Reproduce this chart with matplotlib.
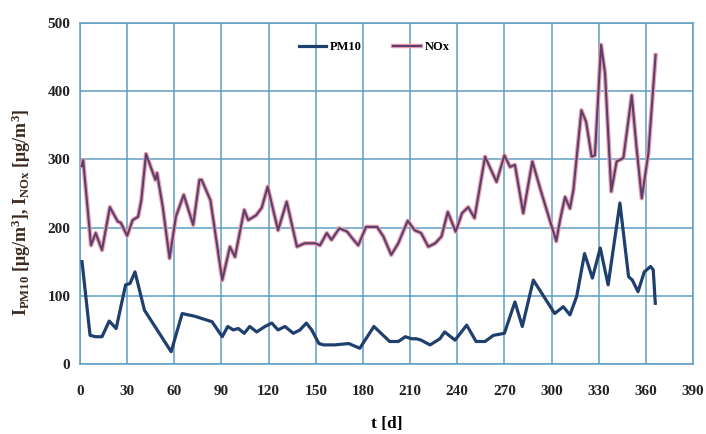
import matplotlib
matplotlib.use("Agg")
import matplotlib.pyplot as plt
import matplotlib.patheffects as pe

# NOx series (day, value)
nox_days = [1, 2, 7, 10, 14, 19, 24, 26, 30, 33.5, 37, 39, 42, 48, 49, 52.6, 57, 61, 66, 72, 76,
            77.4, 83, 90.5, 95.4, 98.6, 104.5, 107, 112, 115.6, 119.4, 126, 131.5, 138, 143, 149.5,
            152.7, 157, 160, 165, 170, 173, 177, 182, 189, 193, 198, 202.5, 208.5, 213, 217, 221.6,
            226, 230, 234, 239, 243, 247, 251, 257.7, 265, 270, 273.6, 276.7, 282, 287.8, 293.7,
            303, 305.4, 308.6, 311.7, 313.9, 319, 322, 325.5, 327.6, 331.5, 334, 338, 341.4, 345.7,
            351, 354, 357.4, 361.6, 366.2]
nox_vals = [290, 299, 174, 192, 167, 230, 209, 207, 188, 211, 216, 240, 308, 270, 280, 231, 155, 216, 248, 204, 270,
            270, 240, 123, 172, 157, 226, 211, 218, 229, 260, 196, 238, 172, 177, 177,
            174, 192, 182, 199, 194, 185, 174, 201, 201, 187, 160, 177, 210, 196, 192, 172,
            177, 187, 223, 194, 221, 230, 214, 304, 267, 306, 289, 292, 221, 297, 250,
            180, 211, 245, 228, 255, 372, 355, 304, 306, 468, 427, 253, 297, 302,
            394, 319, 243, 309, 453]

# PM10 series (day, value)
pm_days = [1.3, 6.4, 10, 14, 18.6, 23, 29, 31.8, 35, 41, 58, 65, 73, 84, 90.5, 94, 97.5, 100.7, 104.5,
           108, 112.4, 117.7, 122, 126, 130.4, 135.7, 140, 144, 147.4, 152, 155, 162, 171, 178, 187,
           197, 202.5, 207, 211, 214, 217, 222.7, 229, 232, 238.6, 246, 252, 257.7, 263, 270, 276.7,
           281.4, 288.4, 293.7, 302, 307.5, 311.7, 316, 321, 326, 331, 336, 343.5, 349, 351.4, 355,
           359, 363, 364.7, 366]
pm_vals = [150, 42, 40, 40, 63, 52, 116, 118, 135, 79, 18, 74, 70, 62, 40, 55, 50, 52, 45,
           55, 47, 55, 60, 50, 55, 45, 50, 60, 50, 30, 28, 28, 30, 23, 55,
           33, 33, 40, 37, 37, 35, 28, 37, 47, 35, 57, 33, 33, 42, 45, 91,
           55, 123, 104, 74, 84, 72, 99, 162, 126, 170, 116, 236, 128, 123, 106,
           135, 143, 138, 89]

x_ticks = list(range(0, 391, 30))
y_ticks = list(range(0, 501, 100))

font = "Liberation Serif"
plt.rcParams["font.family"] = [font, "DejaVu Serif"]
plt.rcParams["mathtext.fontset"] = "custom"
plt.rcParams["mathtext.rm"] = "Liberation Serif:bold"
plt.rcParams["mathtext.it"] = "Liberation Serif:bold"

fig = plt.figure(figsize=(7.06, 4.34), dpi=100)
ax = fig.add_axes([0.1133, 0.1613, 0.8683, 0.7857])

grid_c = "#5f9ec2"
ax.plot(pm_days, pm_vals, color="#1f3f6e", lw=2.3, label="PM10", zorder=3,
        solid_joinstyle="round")
ax.plot(nox_days, nox_vals, color="#5a3f6e", lw=1.5, label="NOx", zorder=3,
        solid_joinstyle="round",
        path_effects=[pe.Stroke(linewidth=3.2, foreground="#e8a0ae"), pe.Normal()])

ax.set_xlim(0, 390)
ax.set_ylim(0, 500)
ax.set_xticks(x_ticks)
ax.set_yticks(y_ticks)
ax.grid(True, color=grid_c, lw=1.1)
ax.set_axisbelow(True)
for s in ax.spines.values():
    s.set_color(grid_c)
    s.set_linewidth(1.1)
ax.tick_params(axis="y", length=0, pad=7, labelsize=11)
ax.tick_params(axis="x", length=0, pad=15, labelsize=11)
for lab in ax.get_xticklabels() + ax.get_yticklabels():
    lab.set_fontweight("bold")
    lab.set_color("#222222")

ax.set_xlabel("t [d]", fontsize=12.5, fontweight="bold", labelpad=13)
ax.set_ylabel(r"I$_{\mathrm{PM10}}$ [μg/m$^{3}$], I$_{\mathrm{NOx}}$ [μg/m$^{3}$]",
              fontsize=13, fontweight="bold", color="#3a2a20", labelpad=8)
ax.yaxis.set_label_coords(-0.076, 0.446)

ax.legend(loc="upper center", bbox_to_anchor=(0.48, 0.98), ncol=2, frameon=False,
          handlelength=2.2, columnspacing=2.5, handletextpad=0.3,
          prop={"family": font, "weight": "bold", "size": 9})

fig.savefig("out.png", dpi=100, facecolor="white")
